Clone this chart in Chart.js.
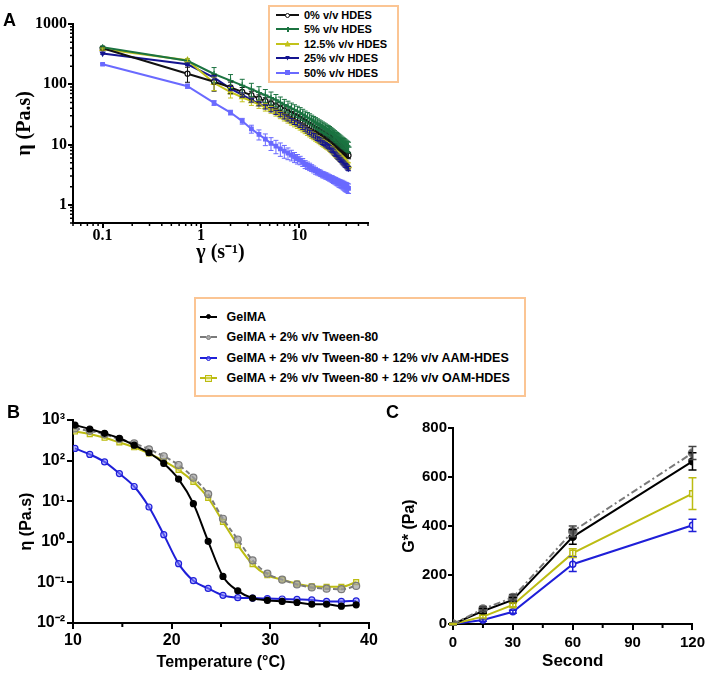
<!DOCTYPE html>
<html>
<head>
<meta charset="utf-8">
<script src="https://cdn.jsdelivr.net/npm/chart.js@4.4.1/dist/chart.umd.min.js"></script>
<style>
  body { margin: 0; background: #fff; }
  #page { position: relative; width: 709px; height: 674px; overflow: hidden; font-family: "Liberation Sans", Arial, sans-serif; }
  canvas { position: absolute; }
  .panel { position: absolute; font-weight: bold; font-size: 18px; line-height: 1; color: #000; }
  .legend { position: absolute; border: 2px solid #fbc594; background: #fff; box-sizing: border-box; }
  .lbl { position: absolute; white-space: nowrap; font-weight: bold; color: #000; }
</style>
</head>
<body>
<div id="page">
  <canvas id="chartA" width="400" height="280" style="left:0;top:0"></canvas>
  <canvas id="chartB" width="380" height="274" style="left:0;top:400px"></canvas>
  <canvas id="chartC" width="329" height="274" style="left:380px;top:400px"></canvas>
  <div class="panel" style="left:3px;top:11px">A</div>
  <div class="panel" style="left:7px;top:403px">B</div>
  <div class="panel" style="left:386px;top:403px">C</div>
  <div class="legend" style="left:268px;top:5px;width:131px;height:78px"></div>
  <div class="legend" style="left:194px;top:297px;width:332px;height:100px"></div>
</div>
<script>
'use strict';

// PANEL A DATA - viscosity vs shear rate
let shearRate = [0.1, 0.73, 1.36, 2.0, 2.63, 3.26, 3.89, 4.52, 5.16, 5.79, 6.42, 7.05, 7.68, 8.32, 8.95, 9.58, 10.21, 10.84, 11.48, 12.11, 12.74, 13.37, 14.0, 14.64, 15.27, 15.9, 16.53, 17.16, 17.8, 18.43, 19.06, 19.69, 20.32, 20.96, 21.59, 22.22, 22.85, 23.48, 24.12, 24.75, 25.38, 26.01, 26.64, 27.28, 27.91, 28.54, 29.17, 29.8, 30.44, 31.07, 31.7];

let visc0 = [395, 150, 110, 89, 75, 66, 58, 52.5, 47.9, 43.3, 39.5, 36.4, 33.8, 31.5, 29.5, 27.9, 26.3, 24.7, 23.2, 21.9, 20.8, 19.7, 18.8, 17.9, 17.1, 16.4, 15.7, 15.1, 14.5, 14.0, 13.5, 13.0, 12.6, 12.1, 11.5, 11.0, 10.6, 10.2, 9.8, 9.4, 9.1, 8.8, 8.5, 8.2, 7.9, 7.7, 7.4, 7.2, 7.0, 6.8, 6.6];
let visc5 = [410, 245, 148, 115, 96, 83, 73, 66, 60, 55, 50, 46, 43, 40, 37.8, 35.7, 33.9, 31.8, 30.0, 28.4, 27.0, 25.6, 24.4, 23.3, 22.3, 21.4, 20.6, 19.8, 19.1, 18.4, 17.7, 17.2, 16.6, 15.9, 15.3, 14.7, 14.2, 13.6, 13.2, 12.7, 12.3, 11.9, 11.5, 11.1, 10.8, 10.5, 10.2, 9.9, 9.6, 9.4, 9.1];
let visc12 = [385, 250, 105, 74, 61, 52.5, 46.3, 41.8, 38.0, 34.1, 30.9, 28.3, 26.1, 24.2, 22.6, 21.2, 20.0, 18.6, 17.4, 16.3, 15.4, 14.6, 13.8, 13.1, 12.5, 11.9, 11.4, 10.8, 10.4, 10.0, 9.6, 9.3, 8.9, 8.5, 8.1, 7.7, 7.4, 7.1, 6.8, 6.5, 6.3, 6.0, 5.8, 5.6, 5.4, 5.2, 5.0, 4.8, 4.7, 4.5, 4.4];
let visc25 = [325, 215, 129, 85, 66.5, 55, 47.7, 42.3, 38.0, 34.4, 31.4, 28.9, 26.8, 25.0, 23.4, 22.1, 20.9, 19.4, 18.1, 16.9, 15.9, 15.0, 14.1, 13.4, 12.7, 12.1, 11.5, 10.9, 10.5, 10.0, 9.6, 9.3, 8.9, 8.4, 8.0, 7.6, 7.2, 6.9, 6.5, 6.2, 6.0, 5.7, 5.5, 5.2, 5.0, 4.8, 4.6, 4.5, 4.3, 4.1, 4.0];
let visc50 = [215, 93, 49, 34, 24.5, 18.2, 14.7, 12.3, 10.5, 9.4, 8.5, 7.8, 7.2, 6.7, 6.2, 5.8, 5.5, 5.1, 4.7, 4.5, 4.3, 4.1, 3.9, 3.7, 3.55, 3.45, 3.35, 3.2, 3.15, 3.05, 3.0, 2.9, 2.82, 2.75, 2.7, 2.6, 2.55, 2.5, 2.42, 2.38, 2.3, 2.27, 2.22, 2.2, 2.12, 2.1, 2.02, 2.0, 1.97, 1.92, 1.88];

// error bars, percent of value
let pct0 = [4, 28, 30, 22, 18, 16, 15, 14, 14, 13, 13, 12, 12, 12, 12, 12, 12, 12, 12, 12, 12, 12, 12, 12, 12, 12, 12, 12, 12, 12, 12, 12, 12, 12, 12, 12, 12, 12, 12, 12, 12, 12, 12, 12, 12, 12, 12, 12, 12, 12, 12];
let pct5 = [5, 8, 28, 26, 26, 25, 25, 24, 24, 23, 23, 22, 22, 22, 21, 21, 21, 21, 20, 20, 20, 20, 20, 20, 20, 20, 20, 20, 20, 20, 20, 20, 20, 20, 20, 20, 20, 20, 20, 20, 20, 20, 20, 20, 20, 20, 20, 20, 20, 20, 20];
let pct12 = [4, 6, 25, 20, 16, 15, 14, 14, 13, 13, 13, 13, 13, 13, 13, 13, 13, 13, 13, 13, 13, 13, 13, 13, 13, 13, 13, 13, 13, 13, 13, 13, 13, 13, 13, 13, 13, 13, 13, 13, 13, 13, 13, 13, 13, 13, 13, 13, 13, 13, 13];
let pct25 = [3, 5, 8, 8, 8, 8, 8, 8, 8, 8, 8, 8, 8, 8, 8, 8, 8, 8, 8, 8, 8, 8, 8, 8, 8, 8, 8, 8, 8, 8, 8, 8, 8, 8, 8, 8, 8, 8, 8, 8, 8, 8, 8, 8, 8, 8, 8, 8, 8, 8, 8];
let pct50 = [3, 8, 9, 9, 11, 15, 19, 22, 24, 25, 25, 24, 22, 20, 19, 18, 16, 15, 15, 14, 14, 13, 13, 13, 12, 12, 12, 12, 12, 12, 12, 12, 12, 12, 13, 13, 13, 14, 14, 14, 15, 15, 15, 16, 16, 17, 17, 18, 18, 18, 18];

let aLabels = ['0% v/v HDES', '5% v/v HDES', '12.5% v/v HDES', '25% v/v HDES', '50% v/v HDES'];
let aXTicks = [0.1, 1, 10];
let aYTicks = [1, 10, 100, 1000];

// PANEL B DATA - viscosity vs temperature
let temperature = [10.2, 11.7, 13.2, 14.7, 16.2, 17.7, 19.2, 20.7, 22.2, 23.7, 25.2, 26.7, 28.2, 29.7, 31.2, 32.7, 34.2, 35.7, 37.2, 38.7];
let tGelma = [750, 600, 470, 355, 240, 156, 85, 35, 8.7, 1.03, 0.14, 0.062, 0.041, 0.036, 0.034, 0.032, 0.029, 0.029, 0.026, 0.028];
let tTween = [620, 540, 445, 340, 265, 190, 128, 78, 38, 15, 3.7, 1.14, 0.35, 0.165, 0.117, 0.089, 0.075, 0.07, 0.068, 0.082];
let tAam = [200, 142, 93, 48, 23, 7.2, 1.5, 0.29, 0.11, 0.071, 0.048, 0.042, 0.041, 0.040, 0.039, 0.038, 0.037, 0.034, 0.034, 0.035];
let tOam = [520, 450, 365, 280, 213, 150, 98, 59, 30, 12, 3.1, 0.83, 0.28, 0.15, 0.117, 0.093, 0.08, 0.078, 0.078, 0.102];
let bYTicks = [0.01, 0.1, 1, 10, 100, 1000];
let bYLabels = ['10⁻²', '10⁻¹', '10⁰', '10¹', '10²', '10³'];

// PANEL C DATA - G* vs time
let seconds = [0, 15, 30, 60, 120];
let gGelma = [0, 53, 98, 356, 664];
let gGelmaErr = [5, 10, 10, 30, 35];
let gTween = [0, 61, 108, 378, 698];
let gTweenErr = [5, 10, 12, 22, 27];
let gAam = [0, 16, 50, 244, 403];
let gAamErr = [3, 5, 6, 30, 25];
let gOam = [0, 30, 78, 289, 532];
let gOamErr = [3, 6, 8, 18, 65];

let bcLabels = ['GelMA', 'GelMA + 2% v/v Tween-80', 'GelMA + 2% v/v Tween-80 + 12% v/v AAM-HDES', 'GelMA + 2% v/v Tween-80 + 12% v/v OAM-HDES'];

// COLOURS / FONTS
const serif = '"Liberation Serif", "Times New Roman", serif';
const sans = '"Liberation Sans", Arial, sans-serif';
const colA = ['#111111', '#1b7340', '#c2c21a', '#141490', '#6a6aff'];
const colBC = ['#000000', '#7a7a7a', '#1f1fd8', '#bcbc12'];

// UTILITIES
function toPoints(xs, ys) {
  return xs.map((x, i) => ({ x: x, y: ys[i] }));
}

function pctToAbs(vals, pct) {
  return vals.map((v, i) => v * pct[i] / 100);
}

function minorList(decades) {
  let out = [];
  decades.forEach(d => { for (let m = 2; m <= 9; m++) out.push(d * m); });
  return out;
}

// draws vertical error bars via the chart scales
const errorBars = {
  id: 'errorBars',
  afterDatasetsDraw(chart, args, opts) {
    const ctx = chart.ctx;
    const xs = chart.scales.x;
    const ys = chart.scales.y;
    chart.data.datasets.forEach((ds) => {
      if (!ds.errors) return;
      ctx.save();
      ctx.strokeStyle = ds.errColor || ds.borderColor;
      ctx.lineWidth = opts.width || 1;
      ctx.setLineDash([]);
      ctx.beginPath();
      ds.data.forEach((pt, j) => {
        let e = ds.errors[j];
        if (!e) return;
        let x = xs.getPixelForValue(pt.x);
        let top = ys.getPixelForValue(pt.y + e);
        let bot = ys.getPixelForValue(pt.y - e);
        let c = opts.cap || 3;
        ctx.moveTo(x, top); ctx.lineTo(x, bot);
        ctx.moveTo(x - c, top); ctx.lineTo(x + c, top);
        ctx.moveTo(x - c, bot); ctx.lineTo(x + c, bot);
      });
      ctx.stroke();
      ctx.restore();
    });
  }
};

// short minor ticks on the axes
const minorTicks = {
  id: 'minorTicks',
  afterDraw(chart, args, opts) {
    const ctx = chart.ctx;
    const area = chart.chartArea;
    ctx.save();
    ctx.strokeStyle = '#000';
    ctx.lineWidth = opts.width || 1.5;
    ctx.beginPath();
    (opts.x || []).forEach(v => {
      let px = chart.scales.x.getPixelForValue(v);
      ctx.moveTo(px, area.bottom); ctx.lineTo(px, area.bottom + opts.len);
    });
    (opts.y || []).forEach(v => {
      let py = chart.scales.y.getPixelForValue(v);
      ctx.moveTo(area.left, py); ctx.lineTo(area.left - opts.len, py);
    });
    ctx.stroke();
    ctx.restore();
  }
};

function axisStyle(tickLen, lw) {
  return {
    grid: { drawOnChartArea: false, drawTicks: true, tickLength: tickLen, color: '#000', lineWidth: lw },
    border: { display: true, color: '#000', width: lw }
  };
}

// CHART A
let aSets = [
  { v: visc0, p: pct0, style: 'circle', r: 2.5, bg: '#ffffff', order: 1 },
  { v: visc5, p: pct5, style: 'cross', r: 3, bg: colA[1], order: 0 },
  { v: visc12, p: pct12, style: 'triangle', r: 3, bg: colA[2], order: 2 },
  { v: visc25, p: pct25, style: 'triangle', r: 2.5, bg: colA[3], order: 3, rot: 180 },
  { v: visc50, p: pct50, style: 'rect', r: 2.5, bg: colA[4], order: 4 }
];

new Chart(document.getElementById('chartA'), {
  type: 'line',
  data: {
    datasets: aSets.map((s, i) => ({
      label: aLabels[i],
      data: toPoints(shearRate, s.v),
      errors: pctToAbs(s.v, s.p),
      borderColor: colA[i],
      backgroundColor: s.bg,
      borderWidth: 2,
      pointStyle: s.style,
      pointRotation: s.rot || 0,
      pointRadius: s.r,
      pointBorderWidth: 1.2,
      tension: 0,
      order: s.order
    }))
  },
  options: {
    responsive: false,
    animation: false,
    layout: { padding: { top: 24, right: 32, left: 0, bottom: 0 } },
    plugins: {
      legend: { display: false },
      tooltip: { enabled: false },
      errorBars: { cap: 2.5, width: 1 },
      minorTicks: { len: 3, width: 1.5, x: minorList([0.01, 0.1, 1, 10]).filter(v => v >= 0.05 && v <= 50), y: minorList([0.1, 1, 10, 100]).filter(v => v >= 0.5 && v <= 1000) }
    },
    scales: {
      x: Object.assign({
        type: 'logarithmic', min: 0.05, max: 50,
        afterBuildTicks: s => { s.ticks = aXTicks.map(v => ({ value: v })); },
        afterFit: s => { s.height = 57; },
        ticks: { color: '#000', padding: -2, autoSkip: false, maxRotation: 0, font: { family: serif, size: 16, weight: 'bold' }, callback: v => String(v) },
        title: { display: true, text: 'γ (s⁻¹)', color: '#000', font: { family: serif, size: 20, weight: 'bold' }, padding: { bottom: 15 } }
      }, axisStyle(5, 2)),
      y: Object.assign({
        type: 'logarithmic', min: 0.5, max: 1000,
        afterBuildTicks: s => { s.ticks = aYTicks.map(v => ({ value: v })); },
        afterFit: s => { s.width = 73; },
        ticks: { color: '#000', padding: 1, autoSkip: false, font: { family: serif, size: 16, weight: 'bold' }, callback: v => String(v) },
        title: { display: true, text: 'η (Pa.s)', color: '#000', font: { family: serif, size: 20, weight: 'bold' }, padding: { top: 13 } }
      }, axisStyle(5, 2))
    }
  },
  plugins: [errorBars, minorTicks]
});

// CHART B
let bSets = [
  { v: tGelma, style: 'circle', r: 3, bg: '#000000', dash: [], order: 0 },
  { v: tTween, style: 'circle', r: 3.5, bg: 'rgba(160,160,160,0.7)', dash: [5, 3], order: 1 },
  { v: tAam, style: 'circle', r: 3, bg: 'rgba(130,130,255,0.55)', dash: [], order: 2 },
  { v: tOam, style: 'rect', r: 3.5, bg: 'rgba(230,230,120,0.6)', dash: [], order: 3 }
];

new Chart(document.getElementById('chartB'), {
  type: 'line',
  data: {
    datasets: bSets.map((s, i) => ({
      label: bcLabels[i],
      data: toPoints(temperature, s.v),
      borderColor: colBC[i],
      backgroundColor: s.bg,
      borderWidth: 2,
      borderDash: s.dash,
      pointStyle: s.style,
      pointRadius: s.r,
      pointBorderWidth: 1.2,
      cubicInterpolationMode: 'monotone',
      order: s.order
    }))
  },
  options: {
    responsive: false,
    animation: false,
    layout: { padding: { top: 20, right: 11, left: 0, bottom: 0 } },
    plugins: {
      legend: { display: false },
      tooltip: { enabled: false },
      minorTicks: { len: 4, width: 2, x: [15, 25, 35], y: [] }
    },
    scales: {
      x: Object.assign({
        type: 'linear', min: 10, max: 40,
        ticks: { stepSize: 10, color: '#000', padding: 2, maxRotation: 0, font: { family: sans, size: 16, weight: 'bold' } },
        afterFit: s => { s.height = 51; },
        title: { display: true, text: 'Temperature (°C)', color: '#000', font: { family: sans, size: 16, weight: 'bold' }, padding: { bottom: 2 } }
      }, axisStyle(6, 2)),
      y: Object.assign({
        type: 'logarithmic', min: 0.01, max: 1000,
        afterBuildTicks: s => { s.ticks = bYTicks.map(v => ({ value: v })); },
        afterFit: s => { s.width = 73; },
        ticks: {
          color: '#000', padding: 2, autoSkip: false, font: { family: sans, size: 16, weight: 'bold' },
          callback: v => {
            let idx = bYTicks.findIndex(t => Math.abs(Math.log10(t) - Math.log10(v)) < 0.01);
            return idx >= 0 ? bYLabels[idx] : '';
          }
        },
        title: { display: true, text: 'η (Pa.s)', color: '#000', font: { family: sans, size: 16, weight: 'bold' }, padding: { top: 17 } }
      }, axisStyle(6, 2))
    }
  },
  plugins: [minorTicks]
});

// CHART C
let cSets = [
  { v: gGelma, e: gGelmaErr, style: 'circle', r: 3.5, bg: '#000000', dash: [], order: 1 },
  { v: gTween, e: gTweenErr, style: 'circle', r: 4, bg: '#5a5a5a', dash: [7, 3, 2, 3], order: 0, errColor: '#444' },
  { v: gAam, e: gAamErr, style: 'circle', r: 3, bg: '#ffffff', dash: [], order: 3 },
  { v: gOam, e: gOamErr, style: 'rect', r: 4, bg: '#ffffff', dash: [], order: 2 }
];

new Chart(document.getElementById('chartC'), {
  type: 'line',
  data: {
    datasets: cSets.map((s, i) => ({
      label: bcLabels[i],
      data: toPoints(seconds, s.v),
      errors: s.e,
      errColor: s.errColor,
      borderColor: colBC[i],
      backgroundColor: s.bg,
      borderWidth: 2,
      borderDash: s.dash,
      pointStyle: s.style,
      pointRadius: s.r,
      pointBorderWidth: 1.5,
      tension: 0,
      order: s.order
    }))
  },
  options: {
    responsive: false,
    animation: false,
    layout: { padding: { top: 28, right: 13, left: 0, bottom: 0 } },
    plugins: {
      legend: { display: false },
      tooltip: { enabled: false },
      errorBars: { cap: 4, width: 1.5 },
      minorTicks: { len: 4, width: 2, x: [15, 45, 75, 105], y: [] }
    },
    scales: {
      x: Object.assign({
        type: 'linear', min: 0, max: 120,
        ticks: { stepSize: 30, color: '#000', padding: 4, maxRotation: 0, font: { family: sans, size: 15, weight: 'bold' } },
        afterFit: s => { s.height = 50; },
        title: { display: true, text: 'Second', color: '#000', font: { family: sans, size: 17, weight: 'bold' }, padding: { bottom: 2 } }
      }, axisStyle(6, 2)),
      y: Object.assign({
        type: 'linear', min: 0, max: 800,
        ticks: { stepSize: 200, color: '#000', padding: 1, font: { family: sans, size: 15, weight: 'bold' } },
        afterFit: s => { s.width = 73; },
        title: { display: true, text: 'G* (Pa)', color: '#000', font: { family: sans, size: 16, weight: 'bold' }, padding: { top: 20 } }
      }, axisStyle(5, 2))
    }
  },
  plugins: [errorBars, minorTicks]
});

// HTML LEGENDS
let page = document.getElementById('page');

function addEl(css) {
  let d = document.createElement('div');
  d.style.position = 'absolute';
  Object.assign(d.style, css);
  page.appendChild(d);
  return d;
}

function addMarker(cx, cy, kind, size, fill, stroke) {
  let css = { left: (cx - size / 2) + 'px', top: (cy - size / 2) + 'px', width: size + 'px', height: size + 'px', boxSizing: 'border-box' };
  if (kind === 'circle' || kind === 'rect') {
    css.border = '1.5px solid ' + stroke;
    css.background = fill;
    if (kind === 'circle') css.borderRadius = '50%';
  } else if (kind === 'triangle') {
    css.background = stroke;
    css.clipPath = 'polygon(50% 0, 100% 100%, 0 100%)';
  } else if (kind === 'triangleDown') {
    css.background = stroke;
    css.clipPath = 'polygon(0 0, 100% 0, 50% 100%)';
  } else if (kind === 'cross') {
    css.background = 'linear-gradient(' + stroke + ',' + stroke + ') center/100% 2px no-repeat, linear-gradient(' + stroke + ',' + stroke + ') center/2px 100% no-repeat';
  }
  addEl(css);
}

function addSample(x, w, cy, color, dashed) {
  if (dashed) {
    addEl({ left: x + 'px', top: (cy - 1) + 'px', width: w + 'px', height: '0px', borderTop: '2px dashed ' + color });
  } else {
    addEl({ left: x + 'px', top: (cy - 1) + 'px', width: w + 'px', height: '2px', background: color });
  }
}

let aRowY = [15, 29.3, 43.5, 58, 72.5];
let aMarks = [['circle', 5, '#fff'], ['cross', 5, null], ['triangle', 6, null], ['triangleDown', 5, null], ['rect', 5, colA[4]]];
aLabels.forEach((t, i) => {
  addSample(276, 23, aRowY[i], colA[i], false);
  addMarker(287.5, aRowY[i], aMarks[i][0], aMarks[i][1], aMarks[i][2], colA[i]);
  let l = addEl({ left: '304px', top: (aRowY[i] - 7) + 'px', lineHeight: '14px', fontSize: '11px' });
  l.className = 'lbl';
  l.textContent = t;
});

let bcRowY = [316.7, 337, 358, 378];
let bcMarks = [['circle', 5, '#000'], ['circle', 5, '#aaa'], ['circle', 5, 'rgba(130,130,255,0.5)'], ['rect', 7, 'rgba(230,230,120,0.5)']];
bcLabels.forEach((t, i) => {
  addSample(200, 17, bcRowY[i], colBC[i], i === 1);
  addMarker(208.5, bcRowY[i], bcMarks[i][0], bcMarks[i][1], bcMarks[i][2], colBC[i]);
  let l = addEl({ left: '226.5px', top: (bcRowY[i] - 8) + 'px', lineHeight: '16px', fontSize: '12.5px' });
  l.className = 'lbl';
  l.textContent = t;
});
</script>
</body>
</html>
